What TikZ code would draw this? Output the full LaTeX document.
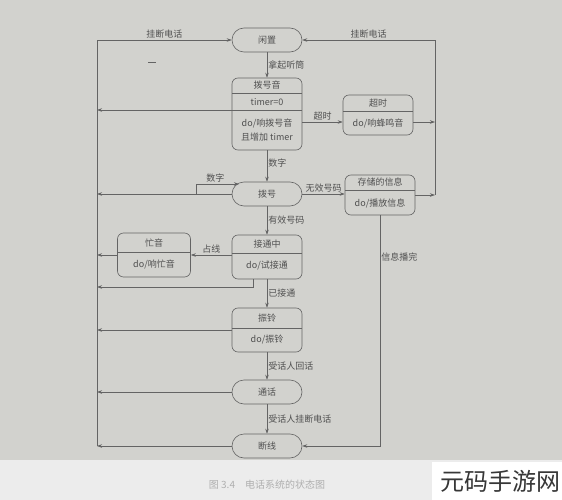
\documentclass[tikz,border=0pt]{standalone}
\usepackage{fontspec}
\setmainfont{Noto Sans CJK SC}
\usetikzlibrary{arrows.meta}

\definecolor{xianse}{RGB}{100,100,100}
\definecolor{zise}{RGB}{80,80,80}
\definecolor{zhibei}{RGB}{210,210,206}
\definecolor{dibu}{RGB}{236,236,236}
\definecolor{tuse}{RGB}{175,175,175}
\definecolor{shuise}{RGB}{55,55,55}

\begin{document}
\begin{tikzpicture}[x=1pt,y=-1pt,
    xian/.style={draw=xianse, line width=0.6pt},
    jt/.style={xian, -{Stealth[length=5pt,width=3.5pt]}},
    zt/.style={xian, rounded corners=12pt, minimum width=70pt, minimum height=24pt, inner sep=0pt, text=zise, font=\fontsize{9}{14}\selectfont},
    fh/.style={xian, rounded corners=6pt, minimum width=70pt, inner sep=0pt},
    wz/.style={text=zise, font=\fontsize{9}{14}\selectfont, inner sep=1pt}]

        % 纸面和底部
        \fill[zhibei] (0,0) rectangle (562,460);
        \fill[dibu] (0,460) rectangle (562,500);
        \fill[white] (432,462) rectangle (562,500);
        \useasboundingbox (0,0) rectangle (562,500);

        % 定义左右两条汇合线的端点
        \coordinate (zuoshang) at (97,40);
        \coordinate (zuoxia) at (97,446);
        \coordinate (youshang) at (435,40);
        \coordinate (youxia) at (435,195);
        \coordinate (L1) at (97,110);
        \coordinate (L4) at (97,287);
        \coordinate (L5) at (97,330);
        \coordinate (R1) at (435,122);
        \coordinate (bohaoL) at (239,184);

        % 绘制状态
        \node[zt] (xianzhi) at (267,40) {闲置};

        \node[fh, minimum height=72pt] (boyin) at (267,114) {};
        \draw[xian] (232,93) -- (302,93);
        \draw[xian] (232,110) -- (302,110);
        \node[wz] (boyinA) at (267,85.5) {拨号音};
        \node[wz] (boyinB) at (267,102) {timer=0};
        \node[wz, align=center] (boyinC) at (267,130) {do/响拨号音\\且增加 timer};

        \node[fh, minimum height=40pt] (chaoshi) at (378,115) {};
        \draw[xian] (343,111) -- (413,111);
        \node[wz] (chaoshiA) at (378,103) {超时};
        \node[wz] (chaoshiB) at (378,123) {do/响蜂鸣音};

        \node[zt] (bohao) at (267,194) {拨号};

        \node[fh, minimum height=40pt] (cunchu) at (380,195) {};
        \draw[xian] (345,190) -- (415,190);
        \node[wz] (cunchuA) at (380,182.5) {存储的信息};
        \node[wz] (cunchuB) at (380,203) {do/播放信息};

        \node[fh, minimum height=44pt] (jietong) at (267,257) {};
        \draw[xian] (232,253) -- (302,253);
        \node[wz] (jietongA) at (267,244) {接通中};
        \node[wz] (jietongB) at (267,266) {do/试接通};

        \node[fh, minimum height=44pt, minimum width=73pt] (mangyin) at (154,255) {};
        \draw[xian] (117.5,252) -- (190.5,252);
        \node[wz] (mangyinA) at (154,243) {忙音};
        \node[wz] (mangyinB) at (154,264) {do/响忙音};

        \node[fh, minimum height=44pt] (zhenling) at (267,330) {};
        \draw[xian] (232,328) -- (302,328);
        \node[wz] (zhenlingA) at (267,318) {振铃};
        \node[wz] (zhenlingB) at (267,340) {do/振铃};

        \node[zt] (tonghua) at (267,392) {通话};
        \node[zt] (duanxian) at (267,446) {断线};

        % 主干上的转移
        \draw[jt] (xianzhi.south) -- (boyin.north) node[wz, right, midway] {拿起听筒};
        \draw[jt] (boyin.south) -- (bohao.north) node[wz, right, pos=0.4] {数字};
        \draw[jt] (bohao.south) -- (jietong.north) node[wz, right, midway] {有效号码};
        \draw[jt] (jietong.south) -- (zhenling.north) node[wz, right, midway] {已接通};
        \draw[jt] (zhenling.south) -- (tonghua.north) node[wz, right, midway] {受话人回话};
        \draw[jt] (tonghua.south) -- (duanxian.north) node[wz, right, midway] {受话人挂断电话};

        % 右侧的转移
        \draw[jt] (boyin.east |- R1) -- (chaoshi.west |- R1) node[wz, above, midway] {超时};
        \draw[jt] (bohao.east) -- (bohao.east -| cunchu.west) node[wz, above, midway] {无效号码};
        \draw[jt] (chaoshi.east |- R1) -- (R1);
        \draw[jt] (cunchu.east) -- (youxia);
        \draw[xian] (youxia) -- (youshang);
        \draw[jt] (youshang) -- (xianzhi.east) node[wz, above, midway] {挂断电话};
        \draw[jt] (cunchu.south) |- (duanxian.east) node[wz, right, pos=0.09] {信息播完};
        \draw[jt] (jietong.west |- mangyin.east) -- (mangyin.east) node[wz, above, midway] {占线};

        % 自身转移
        \draw[jt] (bohao.west) -- ++(-35,0) |- (bohaoL) node[wz, above, pos=0.72] {数字};

        % 左侧的转移
        \draw[xian] (zuoxia) -- (zuoshang);
        \draw[jt] (zuoshang) -- (xianzhi.west) node[wz, above, midway] {挂断电话};
        \draw[jt] (boyin.west |- L1) -- (L1);
        \draw[jt] (bohao.west) -- (bohao.west -| zuoxia);
        \draw[jt] (mangyin.west) -- (mangyin.west -| zuoxia);
        \draw[jt] ([xshift=-14pt]jietong.south) |- (L4);
        \draw[jt] (zhenling.west |- L5) -- (L5);
        \draw[jt] (tonghua.west) -- (tonghua.west -| zuoxia);
        \draw[jt] (duanxian.west) -- (zuoxia);

        % 小记号
        \draw[xian] (148,62) -- (156,62);

        % 图名和水印
        \node[text=tuse, font=\fontsize{10}{12}\selectfont] (tuming) at (267,485) {图 3.4\quad 电话系统的状态图};
        \node[text=shuise, font=\fontsize{24}{26}\selectfont] (shuiyin) at (500,481) {元码手游网};
    \end{tikzpicture}
\end{document}
